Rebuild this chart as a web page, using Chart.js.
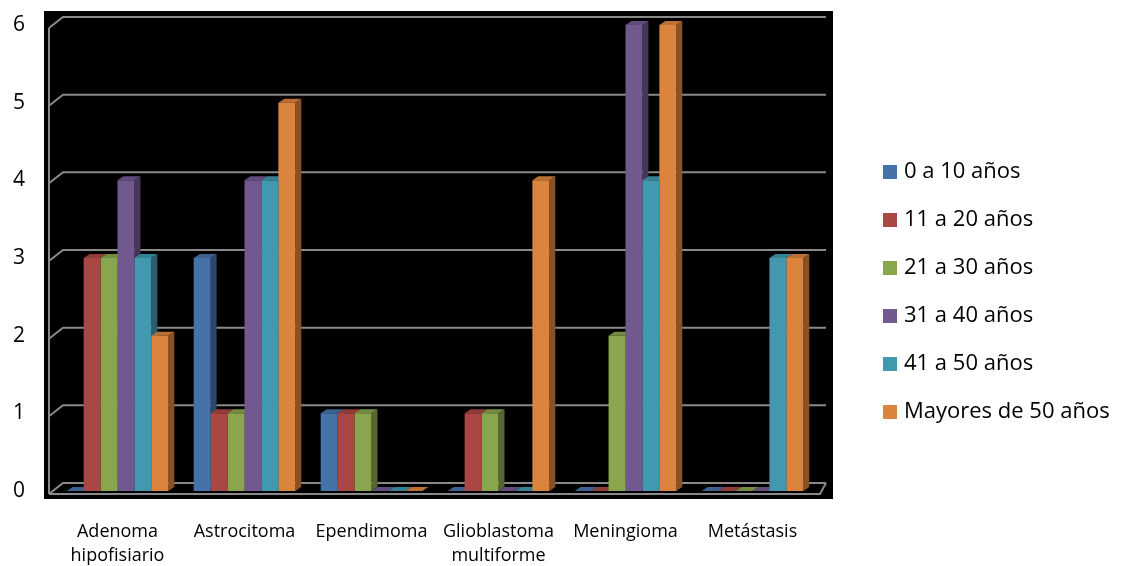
<!DOCTYPE html>
<html lang="es">
<head>
    <meta charset="UTF-8">
    <title>Tumores por edad</title>
    <style>
        html, body { margin: 0; padding: 0; background: #fff; }
        #wrap { width: 1124px; height: 566px; }
    </style>
</head>
<body>
    <div id="wrap">
        <canvas id="myChart" width="1124" height="566"></canvas>
    </div>

    <script src="https://cdn.jsdelivr.net/npm/chart.js"></script>
    <script>
        // tipos de tumor
        const tumores = [
            ['Adenoma', 'hipofisiario'],
            'Astrocitoma',
            'Ependimoma',
            ['Glioblastoma', 'multiforme'],
            'Meningioma',
            'Metástasis',
        ];

        // numero de casos por grupo de edad
        const edad0a10 = [0, 3, 1, 0, 0, 0];
        const edad11a20 = [3, 1, 1, 1, 0, 0];
        const edad21a30 = [3, 1, 1, 1, 2, 0];
        const edad31a40 = [4, 4, 0, 0, 6, 0];
        const edad41a50 = [3, 4, 0, 0, 4, 3];
        const mayores50 = [2, 5, 0, 4, 6, 3];

        const grupos = ['0 a 10 años', '11 a 20 años', '21 a 30 años', '31 a 40 años', '41 a 50 años', 'Mayores de 50 años'];
        const colores = ['#4672AA', '#AA4643', '#89A54E', '#71588F', '#4198AF', '#DB843D'];

        const yMin = 0;
        const yMax = 6;

        const FONT = "'Open Sans', 'DejaVu Sans', sans-serif";
        const DX = 6, DY = 4;   // profundidad de las barras

        function shade(hex, f) {
            let n = parseInt(hex.slice(1), 16);
            let r = Math.round(((n >> 16) & 255) * f);
            let g = Math.round(((n >> 8) & 255) * f);
            let b = Math.round((n & 255) * f);
            return `rgb(${r},${g},${b})`;
        }

        // fondo negro, pared y suelo en perspectiva
        const fondo3d = {
            id: 'fondo3d',
            beforeDraw(chart) {
                const { ctx, chartArea: a } = chart;
                ctx.save();
                ctx.fillStyle = '#000';
                ctx.fillRect(a.left - 10, a.top - 14, a.right - a.left + 27, a.bottom - a.top + 22);
                ctx.restore();
            },
            beforeDatasetsDraw(chart) {
                const { ctx, chartArea: a, scales } = chart;
                const y = scales.y;
                const fl = a.left - 5, bl = a.left + 9, br = a.right + 10;
                ctx.save();
                ctx.strokeStyle = '#8a8a8a';
                ctx.lineWidth = 2;
                ctx.beginPath();
                ctx.moveTo(fl, y.getPixelForValue(yMax) + 3);
                ctx.lineTo(fl, y.getPixelForValue(yMin) + 3);
                for (let v = yMin; v <= yMax; v++) {
                    const yf = y.getPixelForValue(v) + 3;
                    const yb = yf - 11;
                    ctx.moveTo(fl, yf);
                    ctx.lineTo(bl, yb);
                    ctx.lineTo(br, yb);
                }
                // borde delantero del suelo
                const y0 = y.getPixelForValue(yMin) + 3;
                ctx.moveTo(fl, y0);
                ctx.lineTo(a.right + 4, y0);
                ctx.lineTo(br, y0 - 11);
                ctx.stroke();

                // caras laterales y superiores de las barras
                const bars = [];
                chart.data.datasets.forEach((ds, i) => {
                    chart.getDatasetMeta(i).data.forEach(el => {
                        const p = el.getProps(['x', 'y', 'base', 'width'], true);
                        bars.push({ p, color: ds.backgroundColor });
                    });
                });
                bars.forEach(({ p, color }) => {
                    const x1 = p.x + p.width / 2;
                    ctx.fillStyle = shade(color, 0.62);
                    ctx.beginPath();
                    ctx.moveTo(x1, p.y);
                    ctx.lineTo(x1 + DX, p.y - DY);
                    ctx.lineTo(x1 + DX, p.base - DY);
                    ctx.lineTo(x1, p.base);
                    ctx.closePath();
                    ctx.fill();
                });
                bars.forEach(({ p, color }) => {
                    const x0 = p.x - p.width / 2, x1 = p.x + p.width / 2;
                    ctx.fillStyle = shade(color, 0.85);
                    ctx.beginPath();
                    ctx.moveTo(x0, p.y);
                    ctx.lineTo(x1, p.y);
                    ctx.lineTo(x1 + DX, p.y - DY);
                    ctx.lineTo(x0 + DX, p.y - DY);
                    ctx.closePath();
                    ctx.fill();
                });
                ctx.restore();
            },
        };

        // leyenda a la derecha
        const leyenda = {
            id: 'leyenda',
            afterDraw(chart) {
                const { ctx } = chart;
                ctx.save();
                ctx.font = `22px ${FONT}`;
                ctx.textBaseline = 'middle';
                chart.data.datasets.forEach((ds, i) => {
                    const cy = 172 + i * 48;
                    ctx.fillStyle = ds.backgroundColor;
                    ctx.fillRect(883, cy - 7, 14, 14);
                    ctx.fillStyle = '#000';
                    ctx.fillText(ds.label, 904, cy);
                });
                ctx.restore();
            },
        };

        const series = [edad0a10, edad11a20, edad21a30, edad31a40, edad41a50, mayores50];

        const ctx = document.getElementById('myChart');

        new Chart(ctx, {
            type: 'bar',
            data: {
                labels: tumores,
                datasets: series.map((d, i) => ({
                    label: grupos[i],
                    data: d,
                    backgroundColor: colores[i],
                    borderWidth: 0,
                    categoryPercentage: 0.8,
                    barPercentage: 1.0,
                })),
            },
            options: {
                responsive: false,
                animation: false,
                layout: {
                    padding: { left: 13, right: 308, top: 25, bottom: 0 },
                },
                scales: {
                    x: {
                        grid: { display: false, drawTicks: false },
                        border: { display: false },
                        ticks: {
                            color: '#000',
                            padding: 29,
                            maxRotation: 0,
                            autoSkip: false,
                            font: { family: FONT, size: 18, lineHeight: 1.33 },
                        },
                        afterFit: s => { s.height = 75; },
                    },
                    y: {
                        min: yMin,
                        max: yMax,
                        grid: { display: false, drawTicks: false },
                        border: { display: false },
                        ticks: {
                            stepSize: 1,
                            color: '#000',
                            padding: 0,
                            crossAlign: 'far',
                            font: { family: FONT, size: 21 },
                        },
                        afterFit: s => { s.width = 41; },
                    },
                },
                plugins: {
                    legend: { display: false },
                    tooltip: { enabled: false },
                },
            },
            plugins: [fondo3d, leyenda],
        });
    </script>
</body>
</html>
